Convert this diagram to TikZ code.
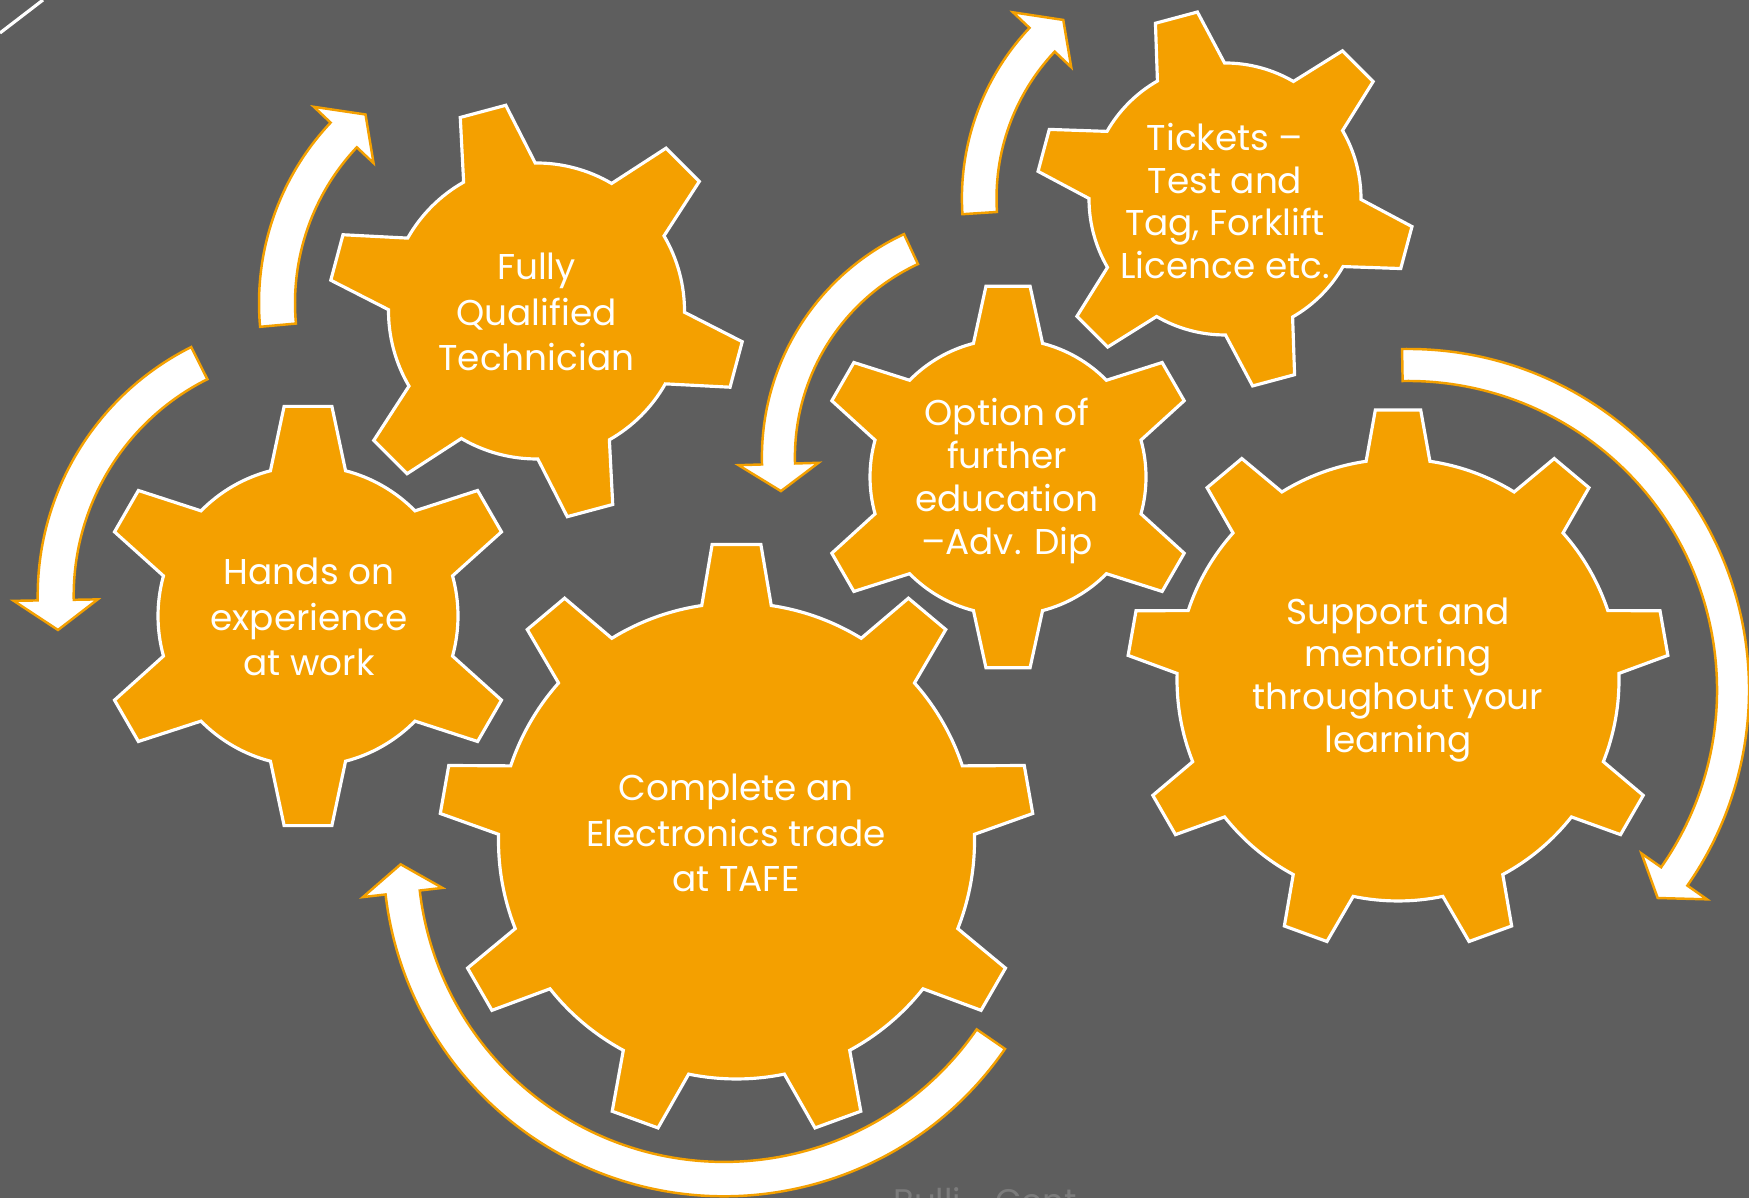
\documentclass[tikz,border=0pt]{standalone}
\usepackage{fontspec}
\setmainfont{Poppins}
\definecolor{slide}{HTML}{5E5E5E}
\definecolor{amber}{HTML}{F4A000}
\definecolor{footgrey}{HTML}{7C7C7C}

% gear: centre, teeth, first tooth angle, root radius, tip radius, half angle at root, half angle at tip
\newcommand{\drawgear}[7]{%
  \pgfmathtruncatemacro{\gearlast}{#2-1}
  \filldraw[shift={(#1)}, gearbody] ({#3-#6}:#4)
    \foreach \k [evaluate=\k as \ang using #3+\k*360/#2] in {0,...,\gearlast} {
      -- ({\ang-#7}:#5) -- ({\ang+#7}:#5) -- ({\ang+#6}:#4)
      arc[start angle=\ang+#6, end angle=\ang+360/#2-#6, radius=#4]
    } -- cycle;}

% curved arrow: centre, radius, half width, tail angle, head angle, head half width, tip angle
\newcommand{\turnarrow}[7]{%
  \filldraw[shift={(#1)}, bentarrow] ({#4}:{#2+#3}) arc[start angle=#4, end angle=#5, radius=#2+#3]
    -- ({#5}:{#2+#6}) -- ({#7}:{#2}) -- ({#5}:{#2-#6}) -- ({#5}:{#2-#3})
    arc[start angle=#5, end angle=#4, radius=#2-#3] -- cycle;}

\begin{document}
\begin{tikzpicture}[x=0.01cm, y=0.01cm]
    \tikzstyle{gearbody}=[fill=amber, draw=white, line width=0.9pt]
    \tikzstyle{bentarrow}=[fill=white, draw=amber, line width=0.7pt]
    \tikzstyle{gearlabel}=[text=white, align=center, font=\fontsize{10.2}{13}\selectfont]
    \tikzstyle{smalllabel}=[gearlabel, font=\fontsize{10.2}{12.2}\selectfont]
    % \draw[draw=black!20, step=100] (0,0) grid (1749,1198);
    \path[use as bounding box, fill=slide] (0,0) rectangle (1749,1198);
    \draw[white, line width=0.9pt] (0,1165) -- (43,1198);

    \drawgear{308,582}{6}{90}{150}{211}{14.5}{6.5}
    \drawgear{536.5,887}{6}{105}{148}{208}{14.5}{6.5}
    \drawgear{1008,721}{6}{90}{138}{192}{14.5}{6.6}
    \drawgear{1225,999}{6}{105}{136}{189}{14.8}{6.6}
    \drawgear{736.5,357}{9}{90}{238}{297.5}{8.4}{4.7}
    \drawgear{1398,518}{9}{90}{221}{271}{8.3}{4.8}

    \turnarrow{315.7,602.4}{260}{18}{116.6}{181}{42}{187.6}
    \turnarrow{522,895}{245}{18}{185.2}{136.7}{41}{129.7}
    \turnarrow{1008,740.8}{229.6}{16.5}{115}{181.7}{40}{188.5}
    \turnarrow{1210.2,999.8}{231}{17.3}{183.7}{136.7}{40}{129.5}
    \turnarrow{1408,508}{325}{16}{91}{-35}{40}{-39.8}
    \turnarrow{724.3,342.7}{323.8}{17.2}{-34.6}{-173.4}{40}{-178.4}

    \node[gearlabel] (hands) at (309, 581) {Hands on\\experience\\at work};
    \node[gearlabel] (qualified) at (536.5, 886) {Fully\\Qualified\\Technician};
    \node[smalllabel] (option) at (1007, 717) {Option of\\further\\education\\–Adv. Dip};
    \node[smalllabel] (tickets) at (1225, 997) {Tickets –\\Test and\\Tag, Forklift\\Licence etc.};
    \node[gearlabel] (tafe) at (736, 365) {Complete an\\Electronics trade\\at TAFE};
    \node[smalllabel] (support) at (1398, 518) {Support and\\mentoring\\throughout your\\learning};
    \node[text=footgrey, font=\fontsize{9.7}{12}\selectfont, anchor=base] (footer) at (985, -16) {Bulli\quad Cent};
\end{tikzpicture}
\end{document}
